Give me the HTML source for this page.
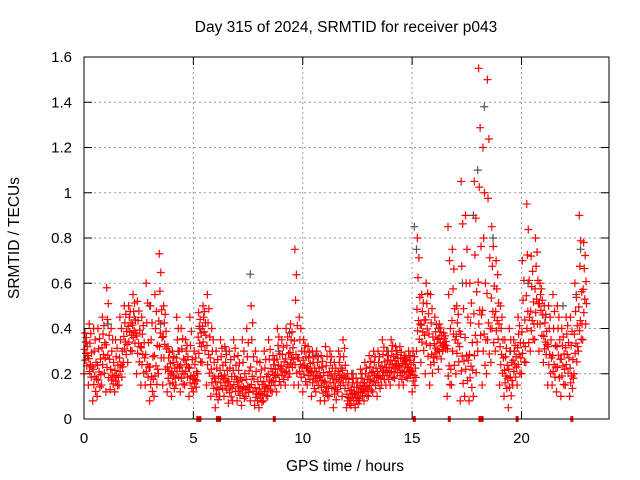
<!DOCTYPE html>
<html><head><meta charset="utf-8"><style>
body{margin:0;background:#fff;}
svg{display:block;font-family:"Liberation Sans",sans-serif;}
</style></head><body>
<svg id="chart" width="640" height="480" xmlns="http://www.w3.org/2000/svg">
<rect width="640" height="480" fill="#fff"/>
<text x="346" y="32" font-size="15.5" text-anchor="middle">Day 315 of 2024, SRMTID for receiver p043</text>
<text x="345" y="471" font-size="15.5" text-anchor="middle">GPS time / hours</text>
<text x="19" y="238" font-size="15.5" text-anchor="middle" transform="rotate(-90 19 238)">SRMTID / TECUs</text>
<g id="grid"></g>
<g id="ticks"></g>
<g id="grey"></g>
<g id="red"></g>
<g id="flags"></g>
<rect x="84" y="57" width="525" height="362" fill="none" stroke="#000" stroke-width="1"/>
</svg>
<script>
const xTicks=[0,5,10,15,20];
const xTickLabels=["0","5","10","15","20"];
const yTicks=[0,0.2,0.4,0.6,0.8,1,1.2,1.4,1.6];
const yTickLabels=["0","0.2","0.4","0.6","0.8","1","1.2","1.4","1.6"];
const binTimes=[0,0.2,0.4,0.6,0.8,1,1.2,1.4,1.6,1.8,2,2.2,2.4,2.6,2.8,3,3.2,3.4,3.6,3.8,4,4.2,4.4,4.6,4.8,5,5.2,5.4,5.6,5.8,6,6.2,6.4,6.6,6.8,7,7.2,7.4,7.6,7.8,8,8.2,8.4,8.6,8.8,9,9.2,9.4,9.6,9.8,10,10.2,10.4,10.6,10.8,11,11.2,11.4,11.6,11.8,12,12.2,12.4,12.6,12.8,13,13.2,13.4,13.6,13.8,14,14.2,14.4,14.6,14.8,15,15.2,15.4,15.6,15.8,16,16.2,16.4,16.6,16.8,17,17.2,17.4,17.6,17.8,18,18.2,18.4,18.6,18.8,19,19.2,19.4,19.6,19.8,20,20.2,20.4,20.6,20.8,21,21.2,21.4,21.6,21.8,22,22.2,22.4,22.6,22.8];
const lowVals=[.2,.15,.08,.1,.15,.12,.13,.12,.15,.25,.25,.3,.2,.15,.15,.08,.1,.2,.15,.12,.1,.15,.12,.15,.1,.12,.2,.25,.15,.1,.05,.1,.1,.07,.08,.08,.06,.1,.08,.06,.05,.08,.1,.12,.12,.15,.15,.2,.15,.15,.12,.15,.1,.12,.08,.08,.1,.05,.12,.1,.05,.06,.05,.08,.08,.1,.12,.1,.15,.15,.15,.18,.15,.15,.18,.12,.3,.25,.2,.15,.25,.22,.3,.1,.15,.2,.08,.1,.08,.1,.3,.15,.2,.25,.3,.15,.1,.05,.15,.15,.2,.25,.3,.35,.3,.25,.15,.15,.12,.1,.15,.1,.2,.3,.35];
const midVals=[.3,.25,.2,.22,.3,.3,.2,.2,.25,.35,.4,.4,.35,.3,.25,.2,.25,.4,.35,.22,.2,.25,.22,.25,.2,.18,.35,.4,.3,.2,.15,.2,.18,.15,.2,.15,.15,.15,.2,.12,.12,.15,.18,.2,.25,.22,.25,.28,.3,.25,.25,.22,.2,.2,.18,.15,.2,.15,.2,.2,.1,.12,.1,.14,.15,.18,.2,.2,.22,.22,.25,.25,.22,.25,.22,.2,.45,.4,.42,.3,.32,.35,.33,.25,.4,.35,.3,.3,.25,.4,.5,.4,.45,.5,.45,.3,.2,.2,.25,.3,.35,.5,.45,.55,.5,.35,.3,.25,.3,.25,.3,.2,.35,.45,.55];
const highVals=[.38,.42,.4,.4,.45,.58,.4,.35,.45,.5,.5,.55,.52,.45,.6,.5,.55,.73,.5,.32,.3,.45,.4,.35,.45,.3,.47,.5,.55,.4,.3,.35,.32,.3,.35,.28,.35,.4,.5,.3,.25,.3,.35,.28,.4,.35,.4,.42,.75,.45,.35,.32,.3,.3,.28,.32,.3,.25,.3,.35,.2,.2,.18,.22,.25,.28,.3,.3,.35,.3,.35,.32,.32,.28,.3,.3,.8,.55,.6,.55,.45,.42,.38,.85,.75,.5,1.05,.9,.6,1.05,1.55,1.2,1.5,.85,.7,.5,.35,.4,.35,.45,.7,.95,.72,.8,.6,.5,.5,.55,.5,.4,.45,.45,.6,.9,.78];
const greyTimes=[0.1,1.1,2.3,3.0,3.5,4.3,5.3,6.5,7.6,8.9,9.4,10.6,12.3,13.9,15.1,15.2,16.2,17.3,17.8,18.0,18.3,18.7,19.5,20.3,21.1,21.9,22.5,22.7];
const greyVals=[.34,.42,.45,.5,.42,.3,.4,.3,.64,.3,.38,.28,.2,.3,.85,.75,.4,.6,.9,1.1,1.38,.8,.3,.6,.45,.5,.55,.75];
const flagTimes=[5.2,5.3,6.1,6.2,8.7,15.1,16.7,18.1,18.2,19.8,22.3];

const X0=84,X1=609,Y0=419,Y1=57,XMAX=24,YMAX=1.6;
const xs=t=>X0+(X1-X0)*t/XMAX;
const ys=v=>Y0-(Y0-Y1)*v/YMAX;
const NS="http://www.w3.org/2000/svg";
function mk(tag,attrs,parent){const e=document.createElementNS(NS,tag);for(const k in attrs)e.setAttribute(k,attrs[k]);parent.appendChild(e);return e;}
const grid=document.getElementById('grid'),ticks=document.getElementById('ticks');
yTicks.forEach((v,i)=>{
  const y=ys(v);
  if(i>0&&i<yTicks.length-1){const l=mk('line',{x1:X0,x2:X1,y1:y,y2:y,stroke:'#999','stroke-dasharray':'2,3','stroke-width':1},grid);
  
  }
  const a=mk('line',{x1:X0,x2:X0+8,y1:y,y2:y,stroke:'#000'},ticks);
  
  
  const b=mk('line',{x1:X1-8,x2:X1,y1:y,y2:y,stroke:'#000'},ticks);
  
  
  const t=mk('text',{x:X0-12,y:y+5,'font-size':15,'text-anchor':'end'},ticks);
  t.textContent=yTickLabels[i];
  
  
});
xTicks.forEach((v,i)=>{
  const x=xs(v);
  if(i>0){const l=mk('line',{x1:x,x2:x,y1:Y1,y2:Y0,stroke:'#999','stroke-dasharray':'2,3','stroke-width':1},grid);
  
  }
  const a=mk('line',{x1:x,x2:x,y1:Y0-8,y2:Y0,stroke:'#000'},ticks);
  
  
  const b=mk('line',{x1:x,x2:x,y1:Y1,y2:Y1+8,stroke:'#000'},ticks);
  
  
  const t=mk('text',{x:x,y:Y0+24,'font-size':15,'text-anchor':'middle'},ticks);
  t.textContent=xTickLabels[i];
  
  
});
function plus(g,t,v,col,name){
  const x=xs(t),y=ys(v);
  const p=mk('path',{d:`M${x-4},${y}h8M${x},${y-4}v8`,stroke:col,'stroke-width':1.2,fill:'none'},g);
  
  
}
const grey=document.getElementById('grey'),red=document.getElementById('red');
greyTimes.forEach((t,i)=>plus(grey,t,greyVals[i],'#555','grey-point'));
const fracs=[0,0.35,0.6,0.8,0.9,1.1,1.25,1.5,1.75,2];
const offs=[0,0.13,0.05,0.17,0.09,0.02,0.15,0.07,0.11,0.04];
binTimes.forEach((t,i)=>{
  const lo=lowVals[i],md=midVals[i],hi=highVals[i];
  fracs.forEach((f,k)=>{
    const v=f<=1?lo+(md-lo)*f:md+(hi-md)*(f-1);
    plus(red,t+offs[k],v,'#f00','red-point');
  });
});
const flags=document.getElementById('flags');
flagTimes.forEach(t=>{
  const r=mk('rect',{x:xs(t)-1.5,y:Y0-3,width:3,height:6,fill:'#f00'},flags);
  
  
});
</script>
</body></html>
